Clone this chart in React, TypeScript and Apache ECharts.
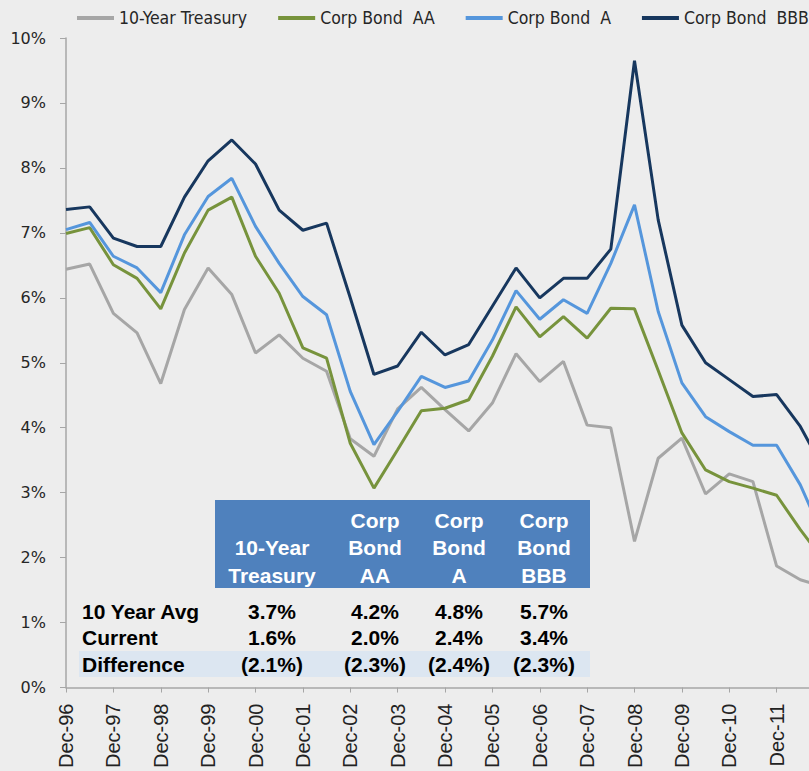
import React, { useEffect, useRef } from "react";
import * as echarts from "echarts";

const categories = [
  "Dec-96", "Jun-97", "Dec-97", "Jun-98", "Dec-98", "Jun-99", "Dec-99", "Jun-00",
  "Dec-00", "Jun-01", "Dec-01", "Jun-02", "Dec-02", "Jun-03", "Dec-03", "Jun-04",
  "Dec-04", "Jun-05", "Dec-05", "Jun-06", "Dec-06", "Jun-07", "Dec-07", "Jun-08",
  "Dec-08", "Jun-09", "Dec-09", "Jun-10", "Dec-10", "Jun-11", "Dec-11", "Jun-12", "Dec-12",
];

const seriesNames = ["10-Year Treasury", "Corp Bond  AA", "Corp Bond  A", "Corp Bond  BBB"];
const seriesColors = ["#A6A6A6", "#77933C", "#5596DC", "#17375E"];

const treasury = [6.44, 6.52, 5.76, 5.46, 4.68, 5.82, 6.46, 6.05, 5.15, 5.43, 5.07, 4.87, 3.83, 3.56, 4.29, 4.62, 4.28, 3.95, 4.38, 5.14, 4.71, 5.02, 4.04, 4.0, 2.25, 3.53, 3.84, 2.98, 3.29, 3.17, 1.87, 1.66, 1.55];
const corpAA = [6.99, 7.08, 6.51, 6.3, 5.83, 6.69, 7.35, 7.55, 6.64, 6.07, 5.23, 5.07, 3.76, 3.07, 3.66, 4.26, 4.3, 4.43, 5.1, 5.86, 5.4, 5.71, 5.38, 5.84, 5.83, 4.88, 3.92, 3.35, 3.17, 3.07, 2.96, 2.43, 1.95];
const corpA = [7.05, 7.16, 6.64, 6.46, 6.08, 6.97, 7.56, 7.84, 7.1, 6.53, 6.02, 5.74, 4.56, 3.74, 4.25, 4.79, 4.62, 4.72, 5.35, 6.11, 5.67, 5.97, 5.76, 6.53, 7.43, 5.79, 4.69, 4.17, 3.94, 3.73, 3.73, 3.12, 2.3];
const corpBBB = [7.36, 7.4, 6.92, 6.79, 6.79, 7.55, 8.11, 8.43, 8.06, 7.35, 7.04, 7.15, 6.0, 4.82, 4.95, 5.47, 5.12, 5.28, 5.87, 6.46, 6.0, 6.3, 6.3, 6.75, 9.65, 7.2, 5.58, 5.0, 4.74, 4.48, 4.51, 4.02, 3.35];

const tableHeaders = [["10-Year", "Treasury"], ["Corp", "Bond", "AA"], ["Corp", "Bond", "A"], ["Corp", "Bond", "BBB"]];
const rowLabels = ["10 Year Avg", "Current", "Difference"];
const avgValues = ["3.7%", "4.2%", "4.8%", "5.7%"];
const currentValues = ["1.6%", "2.0%", "2.4%", "3.4%"];
const differenceValues = ["(2.1%)", "(2.3%)", "(2.4%)", "(2.3%)"];

export default function App() {
  const ref = useRef<HTMLDivElement>(null);
  useEffect(() => {
    if (!ref.current) return;
    const chart = echarts.init(ref.current, null, { renderer: "svg" });
    const font = "'Liberation Sans', Arial, sans-serif";
    const colX = [272, 375, 459, 544];
    const rowY = [611, 637, 664];
    const rows = [avgValues, currentValues, differenceValues];
    const graphics: any[] = [
      { type: "rect", shape: { x: 215, y: 500, width: 375, height: 88 }, style: { fill: "#4F81BD" }, z: 10 },
      { type: "rect", shape: { x: 79, y: 651, width: 511, height: 26 }, style: { fill: "#DCE6F1" }, z: 10 },
    ];
    tableHeaders.forEach((lines, c) => {
      const startRow = 3 - lines.length;
      lines.forEach((t, r) => {
        graphics.push({
          type: "text", z: 11,
          style: { text: t, x: colX[c], y: 520 + (startRow + r) * 27.5, fill: "#FFFFFF", font: `bold 21px ${font}`, textAlign: "center", textVerticalAlign: "middle" },
        });
      });
    });
    rowLabels.forEach((t, r) => {
      graphics.push({
        type: "text", z: 11,
        style: { text: t, x: 82, y: rowY[r], fill: "#000000", font: `bold 21px ${font}`, textAlign: "left", textVerticalAlign: "middle" },
      });
      rows[r].forEach((v, c) => {
        graphics.push({
          type: "text", z: 11,
          style: { text: v, x: colX[c], y: rowY[r], fill: "#000000", font: `bold 21px ${font}`, textAlign: "center", textVerticalAlign: "middle" },
        });
      });
    });
    const dataSets = [treasury, corpAA, corpA, corpBBB];
    const lastIndex = categories.length - 1;
    chart.setOption({
      animation: false,
      backgroundColor: "#EDEDED",
      legend: {
        top: 4,
        left: 72,
        itemGap: 31,
        itemWidth: 37,
        itemHeight: 4,
        icon: "rect",
        textStyle: { fontFamily: "'DejaVu Sans Condensed', 'DejaVu Sans', sans-serif", fontSize: 17.5, color: "#262626" },
        data: seriesNames,
      },
      grid: { left: 66, right: 10, top: 38, bottom: 83, containLabel: false },
      xAxis: {
        type: "category",
        data: categories,
        boundaryGap: false,
        axisLine: { lineStyle: { color: "#A6A6A6", width: 1.5 } },
        axisTick: { interval: 1, length: 5, lineStyle: { color: "#A6A6A6" } },
        axisLabel: {
          interval: 1, rotate: 90, margin: 16, fontSize: 20, fontFamily: font, color: "#222222",
          formatter: (v: string, idx: number) => (idx === lastIndex ? "" : v),
        },
        splitLine: { show: false },
      },
      yAxis: {
        type: "value",
        min: 0,
        max: 10,
        interval: 1,
        axisLine: { show: true, lineStyle: { color: "#A6A6A6", width: 1.5 } },
        axisTick: { show: true, length: 6, lineStyle: { color: "#A6A6A6" } },
        axisLabel: { formatter: "{value}%", fontSize: 16, margin: 20, fontFamily: "'DejaVu Sans', sans-serif", color: "#262626" },
        splitLine: { show: false },
      },
      series: seriesNames.map((name, i) => ({
        name,
        type: "line",
        data: dataSets[i],
        showSymbol: false,
        symbol: "none",
        lineStyle: { width: 3, color: seriesColors[i] },
        itemStyle: { color: seriesColors[i] },
      })),
      graphic: graphics,
    });
    return () => chart.dispose();
  }, []);
  return <div ref={ref} style={{ position: "fixed", left: 0, top: 0, width: 834, height: 771 }} />;
}
